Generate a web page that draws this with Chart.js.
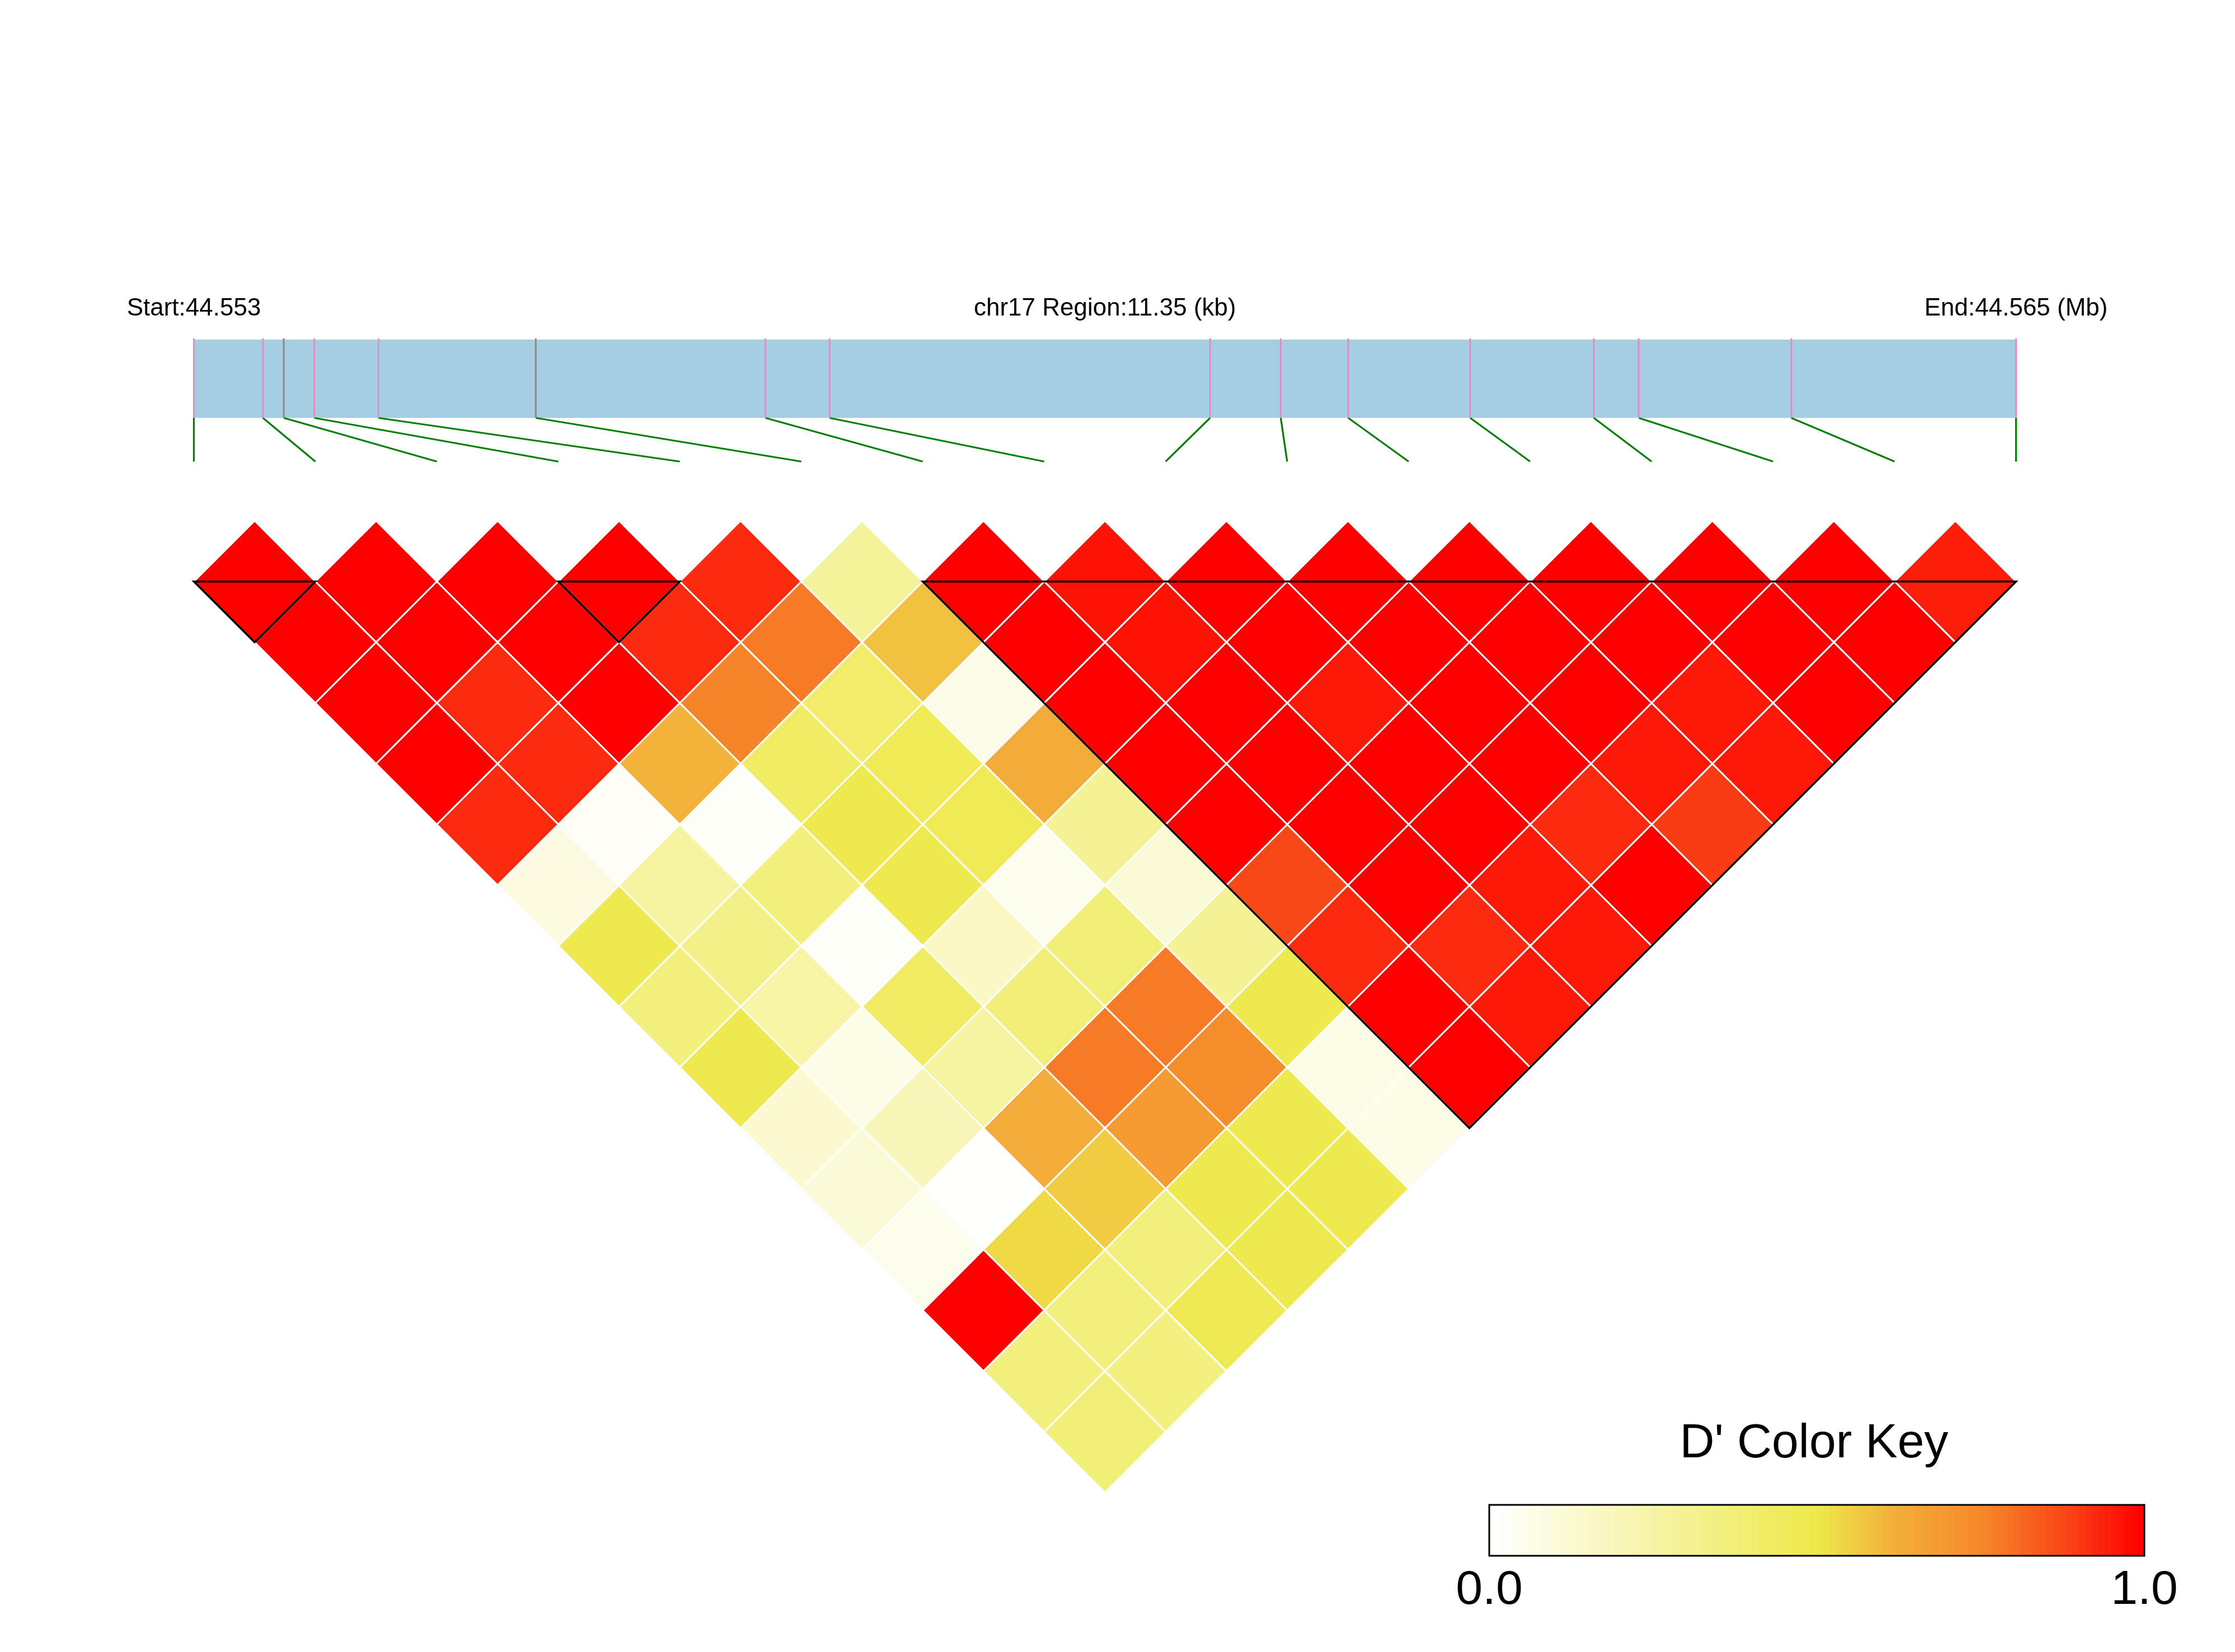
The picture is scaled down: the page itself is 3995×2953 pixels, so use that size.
<!DOCTYPE html>
<html>
<head>
<meta charset="utf-8">
<title>LD heatmap chr17</title>
<script src="https://cdn.jsdelivr.net/npm/chart.js@4.4.1/dist/chart.umd.min.js"></script>
<style>
  html, body { margin: 0; padding: 0; background: #fff; }
  #wrap { position: relative; width: 3995px; height: 2953px; }
  #ld { position: absolute; left: 0; top: 0; }
  #key { position: absolute; left: 2500px; top: 2500px; }
</style>
</head>
<body>
<div id="wrap">
  <canvas id="ld" width="3995" height="2953"></canvas>
  <canvas id="key" width="1495" height="453"></canvas>
</div>
<script>
// region / SNP map
const regionKb = 11.35;
const mapLabels = ['Start:44.553', 'chr17 Region:11.35 (kb)', 'End:44.565 (Mb)'];
// SNP positions, kb from region start
const snpPos = [0, 0.43, 0.56, 0.75, 1.15, 2.13, 3.56, 3.96, 6.33, 6.77, 7.19, 7.95, 8.72, 9.00, 9.95, 11.35];
const greySnps = [2, 5];

// D' values, one row per SNP distance (row 0 = neighbours), read left to right
const dprime = [
  [1, 1, 1, 1, 0.93, 0.28, 1, 0.97, 1, 1, 1, 1, 1, 1, 0.95],
  [1, 1, 1, 0.93, 0.78, 0.58, 1, 0.97, 1, 1, 1, 1, 1, 1],
  [1, 0.93, 1, 0.76, 0.41, 0.06, 1, 1, 0.96, 1, 1, 0.96, 1],
  [1, 0.93, 0.61, 0.43, 0.47, 0.63, 1, 1, 1, 1, 0.96, 0.96],
  [0.93, 0.03, 0.02, 0.49, 0.47, 0.29, 1, 1, 1, 0.93, 0.9],
  [0.08, 0.26, 0.36, 0.49, 0.05, 0.11, 0.88, 1, 0.96, 1],
  [0.49, 0.33, 0.02, 0.16, 0.37, 0.29, 0.93, 0.93, 0.96],
  [0.36, 0.25, 0.43, 0.37, 0.78, 0.49, 1, 0.96],
  [0.49, 0.07, 0.26, 0.78, 0.74, 0.07, 1],
  [0.13, 0.2, 0.63, 0.69, 0.49, 0.07],
  [0.11, 0.01, 0.56, 0.49, 0.49],
  [0.05, 0.53, 0.36, 0.49],
  [1, 0.36, 0.48],
  [0.36, 0.35],
  [0.37]
];

// LD blocks (first SNP, last SNP)
const ldBlocks = [[0, 1], [3, 4], [6, 15]];

// colour key
const keyTitle = "D' Color Key";
const keyTicks = [0, 1];
const keySteps = 100;

// palette: white -> yellow -> orange -> red
const keyStops = [
  [0, 255, 255, 255],
  [0.5, 238, 233, 74],
  [0.62, 243, 174, 58],
  [0.75, 246, 138, 42],
  [0.88, 249, 72, 24],
  [1, 255, 0, 0]
];

function dColor(d) {
  for (let k = 1; k < keyStops.length; k++) {
    const a = keyStops[k - 1], b = keyStops[k];
    if (d <= b[0]) {
      const t = (d - a[0]) / (b[0] - a[0]);
      const c = [1, 2, 3].map(n => Math.round(a[n] + (b[n] - a[n]) * t));
      return `rgb(${c[0]},${c[1]},${c[2]})`;
    }
  }
  return 'rgb(255,0,0)';
}

// layout (pixels) : one unit = half a cell diagonal
const W = 3995, H = 2953;
const unit = 108.57;
const originX = 346.5;   // first SNP
const originY = 1039.5;  // centre line of the first row
const barTop = -3.984, barBottom = -2.694, connEnd = -1.976, labelY = -4.38;

const nSnp = snpPos.length;
const span = 2 * (nSnp - 1);
const posU = kb => kb / regionKb * span;

const cells = [];
dprime.forEach((row, v) => {
  row.forEach((d, i) => cells.push({ x: 2 * i + v + 1, y: v, d }));
});

const datasets = [];

// gene map bar
datasets.push({
  data: [{ x: 0, y: barTop }, { x: span, y: barTop }, { x: span, y: barBottom }, { x: 0, y: barBottom }, { x: 0, y: barTop }],
  showLine: true, fill: 'shape', backgroundColor: '#a6cee3',
  borderWidth: 0, pointRadius: 0, order: 50
});

// SNP ticks and connectors
snpPos.forEach((kb, k) => {
  const u = posU(kb);
  datasets.push({
    data: [{ x: u, y: barTop - 0.02 }, { x: u, y: barBottom }],
    showLine: true, borderColor: greySnps.includes(k) ? '#8a8a8a' : '#e38bc6',
    borderWidth: 3, pointRadius: 0, order: 40
  });
  datasets.push({
    data: [{ x: u, y: barBottom }, { x: 2 * k, y: connEnd }],
    showLine: true, borderColor: '#008000',
    borderWidth: 3.2, pointRadius: 0, order: 40
  });
});

// heatmap cells
datasets.push({
  data: cells,
  pointStyle: 'rectRot',
  pointRadius: ctx => ctx.chart.scales.x.getPixelForValue(1) - ctx.chart.scales.x.getPixelForValue(0),
  backgroundColor: cells.map(c => dColor(c.d)),
  borderColor: '#ffffff',
  borderWidth: 3,
  order: 30
});

// block outlines
ldBlocks.forEach(([a, b]) => {
  datasets.push({
    data: [{ x: 2 * a, y: 0 }, { x: 2 * b, y: 0 }, { x: a + b, y: b - a }, { x: 2 * a, y: 0 }, { x: 2 * b, y: 0 }],
    showLine: true, borderColor: '#000000', borderWidth: 3.5,
    borderJoinStyle: 'miter', pointRadius: 0, order: 1
  });
});

const mapText = {
  id: 'mapText',
  afterDatasetsDraw(chart) {
    const { ctx, scales: { x, y } } = chart;
    ctx.save();
    ctx.font = '44px "Liberation Sans", Arial, sans-serif';
    ctx.fillStyle = '#000';
    ctx.textAlign = 'center';
    ctx.textBaseline = 'alphabetic';
    const yy = y.getPixelForValue(labelY);
    ctx.fillText(mapLabels[0], x.getPixelForValue(0), yy);
    ctx.fillText(mapLabels[1], x.getPixelForValue(span / 2), yy);
    ctx.fillText(mapLabels[2], x.getPixelForValue(span), yy);
    ctx.restore();
  }
};

new Chart(document.getElementById('ld'), {
  type: 'scatter',
  data: { datasets },
  options: {
    responsive: false,
    animation: false,
    events: [],
    devicePixelRatio: 1,
    layout: { padding: 0 },
    plugins: { legend: { display: false }, tooltip: { enabled: false } },
    scales: {
      x: { type: 'linear', display: false, bounds: 'data', min: -originX / unit, max: (W - originX) / unit },
      y: { type: 'linear', display: false, bounds: 'data', reverse: true, min: -originY / unit, max: (H - originY) / unit }
    }
  },
  plugins: [mapText]
});

// colour key
const keyLabels = Array.from({ length: keySteps }, (_, k) => k);
const keyFrame = {
  id: 'keyFrame',
  afterDraw(chart) {
    const { ctx, chartArea: a, scales } = chart;
    ctx.save();
    ctx.strokeStyle = '#000';
    ctx.lineWidth = 3;
    ctx.strokeRect(a.left, a.top, a.right - a.left, a.bottom - a.top);
    ctx.fillStyle = '#000';
    ctx.textAlign = 'center';
    ctx.textBaseline = 'alphabetic';
    ctx.font = '86px "Liberation Sans", Arial, sans-serif';
    ctx.fillText(keyTitle, (a.left + a.right) / 2 - 5, a.top - 85);
    keyTicks.forEach(t => ctx.fillText(t.toFixed(1), scales.kx.getPixelForValue(t), a.bottom + 86));
    ctx.restore();
  }
};

new Chart(document.getElementById('key'), {
  type: 'bar',
  data: {
    labels: keyLabels,
    datasets: [{
      data: keyLabels.map(() => 1),
      backgroundColor: keyLabels.map(k => dColor(k / (keySteps - 1))),
      borderWidth: 0,
      barPercentage: 1,
      categoryPercentage: 1
    }]
  },
  options: {
    responsive: false,
    animation: false,
    events: [],
    devicePixelRatio: 1,
    layout: { padding: { left: 162, right: 162, top: 190, bottom: 172 } },
    plugins: { legend: { display: false }, tooltip: { enabled: false } },
    scales: {
      x: { display: false },
      y: { display: false, min: 0, max: 1 },
      kx: { type: 'linear', axis: 'x', position: 'bottom', display: false, offset: false,
            grid: { offset: false }, bounds: 'data', min: 0, max: 1 }
    }
  },
  plugins: [keyFrame]
});
</script>
</body>
</html>
